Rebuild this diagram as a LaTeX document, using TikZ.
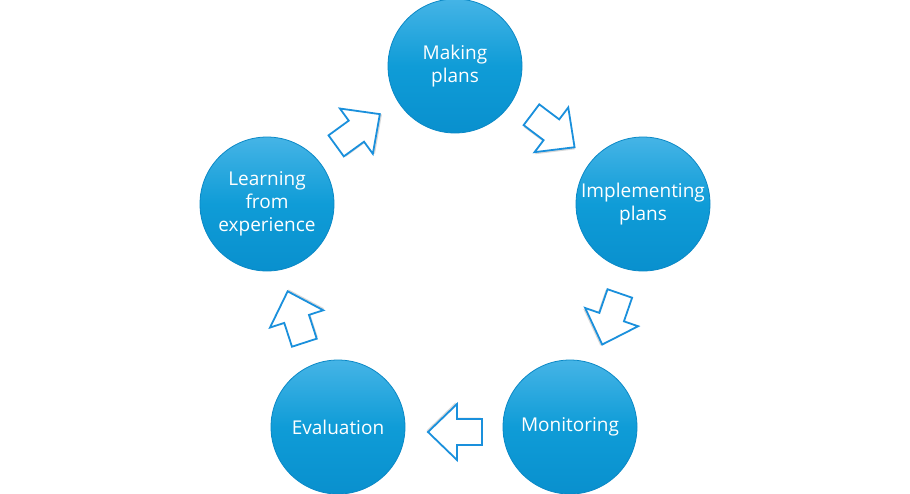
\documentclass[tikz,border=0pt]{standalone}
\usepackage{fontspec}
\setmainfont{Open Sans}
\definecolor{ballTop}{HTML}{45B4E6}
\definecolor{ballMid}{HTML}{0F9CD7}
\definecolor{ballBot}{HTML}{0990CE}
\definecolor{ballLine}{HTML}{0A88C6}
\definecolor{arrLine}{HTML}{1A90DC}
\tikzset{
  ball/.style={circle, minimum size=134pt, inner sep=0pt, draw=ballLine, line width=0.8pt,
    top color=ballTop, bottom color=ballBot, middle color=ballMid,
    text=white, align=center, font=\fontsize{19}{23}\selectfont},
  blockarr/.style={fill=white, draw=arrLine, line width=1.8pt, line join=miter},
  blockshadow/.style={fill=black!25, draw=none, opacity=0.6}
}
\newcommand\blockarrow[3]{%
  \begin{scope}[shift={(#1,#2)}, rotate=#3]
    \fill[blockshadow, shift={(1.5,1.5)}] (-27,-13) -- (-2,-13) -- (-2,-28) -- (27,0) -- (-2,28) -- (-2,13) -- (-27,13) -- cycle;
    \draw[blockarr] (-27,-13) -- (-2,-13) -- (-2,-28) -- (27,0) -- (-2,28) -- (-2,13) -- (-27,13) -- cycle;
  \end{scope}}
\begin{document}
\begin{tikzpicture}[x=1pt, y=-1pt]
  \fill[white] (0,0) rectangle (910,493);
  \useasboundingbox (0,0) rectangle (910,493);
  \node[ball] (make) at (455,66) {Making\\plans};
  \node[ball] (impl) at (643,204) {Implementing\\plans};
  \node[ball] (moni) at (570,427) {Monitoring};
  \node[ball] (eval) at (338,427) {Evaluation};
  \node[ball] (learn) at (267,204) {Learning\\from\\experience};
  \blockarrow{358}{130}{36}
  \blockarrow{553}{131}{-37}
  \blockarrow{611}{319}{-109}
  \blockarrow{455}{432}{180}
  \blockarrow{296}{317}{108}
\end{tikzpicture}
\end{document}
